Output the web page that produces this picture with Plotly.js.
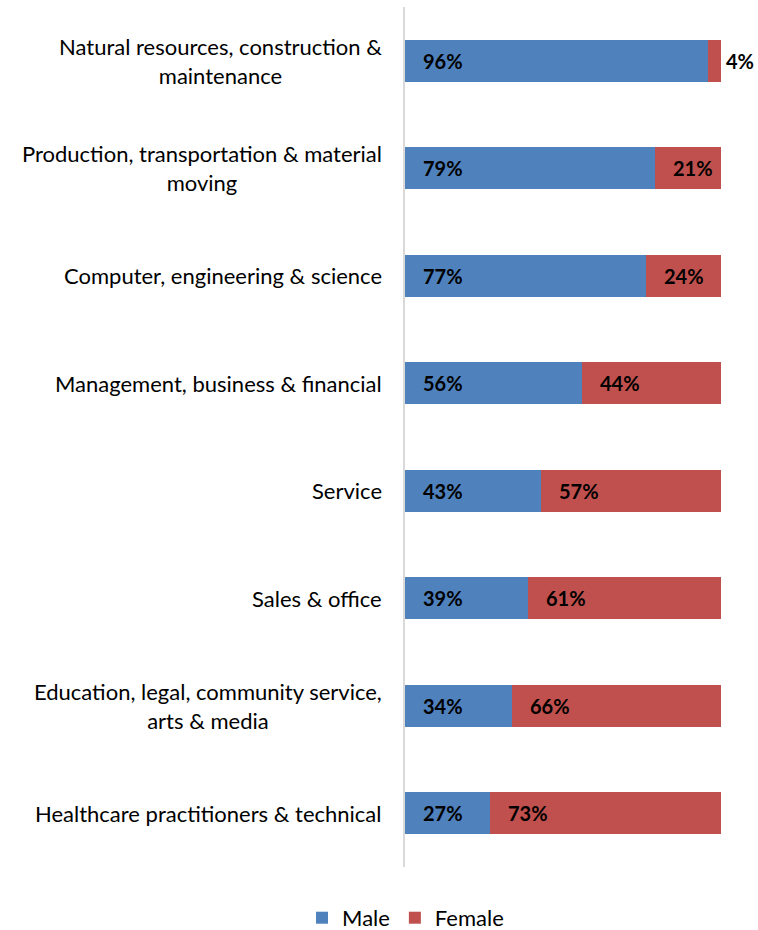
<!DOCTYPE html>
<html>
<head>
<meta charset="utf-8">
<script src="https://cdn.plot.ly/plotly-3.0.1.min.js"></script>
<style>html,body{margin:0;padding:0;background:#fff;}#chart{width:758px;height:930px;}</style>
</head>
<body>
<div id="chart"></div>
<script>
const categories = [
  "Natural resources, construction &<br>maintenance",
  "Production, transportation & material<br>moving",
  "Computer, engineering & science",
  "Management, business & financial",
  "Service",
  "Sales & office",
  "Education, legal, community service,<br>arts & media",
  "Healthcare practitioners & technical"
];
const male = [96, 79, 77, 56, 43, 39, 34, 27];
const female = [4, 21, 24, 44, 57, 61, 66, 73];
const seriesNames = ["Male", "Female"];
const colors = ["#4F81BD", "#C0504D"];

const FONT = "Lato, 'Open Sans', sans-serif";
const ids = categories.map((c, i) => i);

const traces = [
  {type: 'bar', orientation: 'h', name: seriesNames[0], y: ids, x: male,
   marker: {color: colors[0]}, hoverinfo: 'none'},
  {type: 'bar', orientation: 'h', name: seriesNames[1], y: ids, x: female,
   marker: {color: colors[1]}, hoverinfo: 'none'}
];

const annotations = [];
categories.forEach((c, i) => {
  annotations.push({
    xref: 'paper', yref: 'y', x: 0, y: i, xanchor: 'right', yanchor: 'middle',
    xshift: -21, align: 'center', showarrow: false, text: c,
    font: {family: FONT, size: 22, color: '#000'}
  });
  const tot = male[i] + female[i];
  const mN = male[i] / tot * 100;
  const fN = female[i] / tot * 100;
  annotations.push({
    xref: 'x', yref: 'y', x: 0, y: i, xanchor: 'left', yanchor: 'middle',
    xshift: 16, showarrow: false, text: '<b>' + male[i] + '%</b>',
    font: {family: FONT, size: 20, color: '#000'}
  });
  if (fN < 8) {
    annotations.push({
      xref: 'x', yref: 'y', x: mN + fN, y: i, xanchor: 'left', yanchor: 'middle',
      xshift: 3, showarrow: false, text: '<b>' + female[i] + '%</b>',
      font: {family: FONT, size: 20, color: '#000'}
    });
  } else {
    annotations.push({
      xref: 'x', yref: 'y', x: mN, y: i, xanchor: 'left', yanchor: 'middle',
      xshift: 16, showarrow: false, text: '<b>' + female[i] + '%</b>',
      font: {family: FONT, size: 20, color: '#000'}
    });
  }
});

const layout = {
  width: 758, height: 930,
  margin: {l: 405, r: 37, t: 7, b: 63},
  paper_bgcolor: '#fff', plot_bgcolor: '#fff',
  barmode: 'stack', barnorm: 'percent', bargap: 0.61,
  showlegend: true,
  legend: {orientation: 'h', xref: 'container', yref: 'container',
    x: 0.535, y: 0.013, xanchor: 'center', yanchor: 'middle',
    font: {family: FONT, size: 22, color: '#000'}, itemwidth: 30, traceorder: 'normal'},
  xaxis: {range: [0, 100], showgrid: false, zeroline: false, showticklabels: false,
    showline: false, fixedrange: true},
  yaxis: {range: [7.5, -0.5], showgrid: false, zeroline: false, showticklabels: false,
    showline: true, linecolor: '#d9d9d9', linewidth: 2, ticks: '', fixedrange: true},
  annotations: annotations,
  font: {family: FONT}
};

Plotly.newPlot('chart', traces, layout, {displayModeBar: false, staticPlot: true});
</script>
</body>
</html>
